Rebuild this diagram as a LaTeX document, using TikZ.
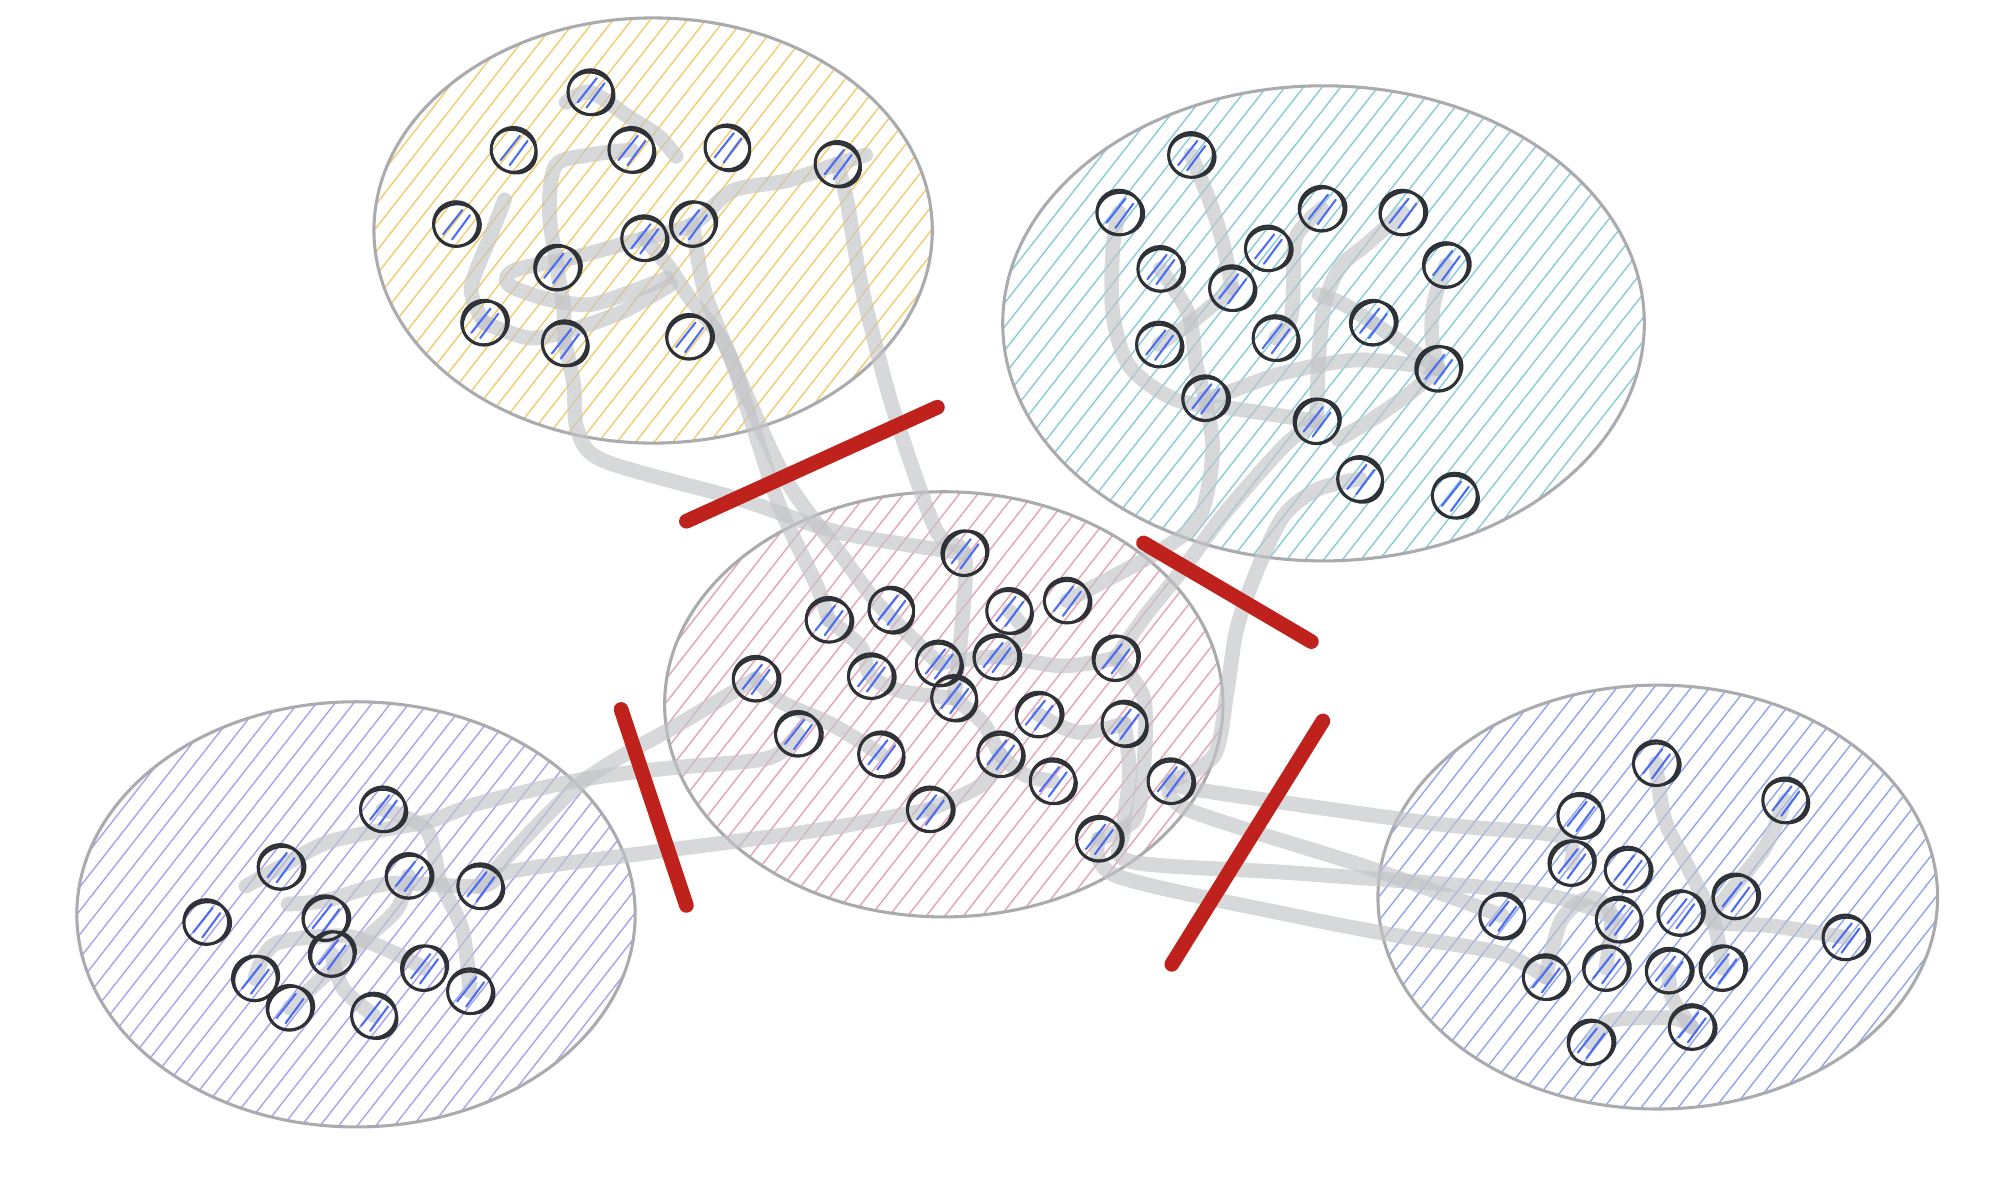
\documentclass[tikz,border=0pt]{standalone}
\usetikzlibrary{calc}
\definecolor{ink}{HTML}{2E3136}
\definecolor{nblue}{HTML}{4A6CF5}
\definecolor{egray}{HTML}{C2C4C7}
\definecolor{ringc}{HTML}{A9ABAE}
\definecolor{redc}{HTML}{BF221D}
\definecolor{hyel}{HTML}{F2CB68}
\definecolor{hteal}{HTML}{85CBD6}
\definecolor{hpink}{HTML}{E6A0B4}
\definecolor{hlav}{HTML}{A79FF0}
\definecolor{hblue}{HTML}{8EA2EF}
\pgfdeclarelayer{back}\pgfdeclarelayer{edges}\pgfdeclarelayer{front}
\pgfsetlayers{back,edges,main,front}
\tikzset{
 vnode/.style={circle, minimum size=35pt, inner sep=0pt, draw=ink, line width=2.3pt,
   path picture={\draw[nblue, line width=1.6pt, line cap=round]
     ([shift={(-10,8)}]path picture bounding box.center) -- ++(15,-19)
     ([shift={(-3,12)}]path picture bounding box.center) -- ++(14,-19);}},
 sketch/.style={draw=ink, line width=1.9pt},
 gedge/.style={draw=egray, line width=11.5pt, line cap=round, line join=round, opacity=0.65},
 redbar/.style={draw=redc, line width=11.5pt, line cap=round},
 ring/.style={draw=ringc, line width=2.4pt},
}
\newcommand\vtx[3]{%
 \node[vnode] (#1) at (#2,#3) {};
 \begin{scope}[shift={(#1.center)}, rotate={mod(#2*7+#3*3,90)-45}]
  \draw[sketch] (1.0,0.8) ellipse [x radius=18.3, y radius=16.4];
 \end{scope}}
\newcommand\hatchell[5]{%
 \begin{scope}
 \clip (#1,#2) ellipse [x radius=#3, y radius=#4];
 \foreach \k in {-30,...,30} \draw[#5, line width=1.05pt] ({#1+\k*14.5-185},{#2+236}) -- ++(370,-473);
 \end{scope}
 \draw[ring] (#1,#2) ellipse [x radius=#3, y radius=#4];}
\begin{document}
\begin{tikzpicture}[x=1pt,y=-1pt]
\useasboundingbox (0,0) rectangle (1568,925);
\begin{pgfonlayer}{back}
\fill[white] (0,0) rectangle (1568,925);
\hatchell{510}{180}{218}{166}{hyel}
\hatchell{1033.5}{252.5}{250.5}{185.5}{hteal}
\hatchell{737}{550}{218}{166}{hpink}
\hatchell{278}{714}{218}{166}{hlav}
\hatchell{1294.5}{700.5}{218.5}{165.5}{hblue}
\end{pgfonlayer}
% yellow cluster
\vtx{Y1}{461}{72}\vtx{Y2}{401}{117}\vtx{Y3}{493}{117}\vtx{Y4}{568}{115}
\vtx{Y5}{654}{128}\vtx{Y6}{356}{175}\vtx{Y7}{503}{186}\vtx{Y8}{541}{175}
\vtx{Y9}{435}{209}\vtx{Y10}{378}{252}\vtx{Y11}{441}{268}\vtx{Y12}{538}{263}
% teal cluster
\vtx{T1}{930}{121}\vtx{T2}{874}{166}\vtx{T3}{1032}{163}\vtx{T4}{1095}{166}
\vtx{T5}{990}{194}\vtx{T6}{906}{210}\vtx{T7}{1129}{207}\vtx{T8}{962}{225}
\vtx{T9}{1072}{252}\vtx{T10}{905}{269}\vtx{T11}{996}{264}\vtx{T12}{1123}{288}
\vtx{T13}{941}{311}\vtx{T14}{1028}{329}\vtx{T15}{1062}{374}\vtx{T16}{1136}{387}
% pink cluster
\vtx{P1}{753}{432}\vtx{P2}{647}{484}\vtx{P3}{696}{476}\vtx{P4}{788}{477}
\vtx{P5}{833}{469}\vtx{P6}{590}{530}\vtx{P7}{680}{528}\vtx{P8}{733}{518}
\vtx{P9}{778}{513}\vtx{P10}{871}{514}\vtx{P11}{745}{545}\vtx{P12}{811}{558}
\vtx{P13}{623}{573}\vtx{P14}{688}{589}\vtx{P15}{781}{589}\vtx{P16}{878}{565}
\vtx{P17}{822}{610}\vtx{P18}{726}{632}\vtx{P19}{914}{610}\vtx{P20}{858}{655}
% bottom-left cluster
\vtx{L1}{299}{632}\vtx{L2}{219}{677}\vtx{L3}{319}{684}\vtx{L4}{375}{692}
\vtx{L5}{161}{720}\vtx{L6}{254}{717}\vtx{L7}{259}{745}\vtx{L8}{199}{764}
\vtx{L9}{331}{756}\vtx{L10}{367}{774}\vtx{L11}{226}{787}\vtx{L12}{292}{793}
% bottom-right cluster
\vtx{R1}{1293}{596}\vtx{R2}{1394}{625}\vtx{R3}{1234}{637}\vtx{R4}{1227}{674}
\vtx{R5}{1271}{679}\vtx{R6}{1355}{700}\vtx{R7}{1173}{715}\vtx{R8}{1264}{718}
\vtx{R9}{1312}{713}\vtx{R10}{1441}{732}\vtx{R11}{1207}{763}\vtx{R12}{1254}{756}
\vtx{R13}{1303}{758}\vtx{R14}{1345}{756}\vtx{R15}{1242}{814}\vtx{R16}{1321}{802}
% free ends
\coordinate (ya0) at (442,80);
\coordinate (ya1) at (528,122);
\coordinate (ya2) at (676,121);
\coordinate (yd0) at (394,156);
\coordinate (yd1) at (524,222);
\coordinate (yl1) at (521,217);
\coordinate (tc1) at (1030,230);
\coordinate (tc2) at (1045,343);
\coordinate (lb1) at (192,692);
\coordinate (lb2) at (225,706);
\begin{pgfonlayer}{edges}
% yellow
\draw[gedge] plot[smooth] coordinates {(ya0) (Y1.center) (492,92) (514,106) (ya1)};
\draw[gedge] plot[smooth] coordinates {(Y3.center) (460,121) (434,129) (429,165) (Y9.center) (440,240) (Y11.center)};
\draw[gedge] plot[smooth] coordinates {(Y10.center) (368,225) (384,182) (yd0)};
\draw[gedge] plot[smooth] coordinates {(Y10.center) (414,264) (448,257) (487,243) (yd1)};
\draw[gedge] plot[smooth] coordinates {(Y7.center) (448,201) (402,211) (397,222) (425,233) (459,238) (487,230) (yl1)};
\draw[gedge] plot[smooth] coordinates {(Y7.center) (Y8.center) (572,149) (615,141) (Y5.center) (ya2)};
% yellow to pink
\draw[gedge] plot[smooth] coordinates {(Y7.center) (522,208) (538,232) (567,271) (588,333) (609,396) (638,458) (P2.center)};
\draw[gedge] plot[smooth] coordinates {(Y8.center) (546,208) (553,236) (578,297) (614,375) (656,432) (686,472) (P8.center)};
\draw[gedge] plot[smooth] coordinates {(Y11.center) (448,300) (451,336) (472,360) (578,390) (656,416) (P1.center)};
\draw[gedge] plot[smooth] coordinates {(Y5.center) (662,160) (673,225) (697,318) (731,414) (P1.center) (751,490) (P11.center)};
% teal
\draw[gedge] plot[smooth] coordinates {(T1.center) (945,158) (955,190) (T8.center)};
\draw[gedge] plot[smooth] coordinates {(T2.center) (869,193) (869,245) (882,286) (918,312) (970,320) (T14.center)};
\draw[gedge] plot[smooth] coordinates {(T6.center) (928,245) (934,285) (T13.center)};
\draw[gedge] plot[smooth] coordinates {(T8.center) (935,248) (T10.center)};
\draw[gedge] plot[smooth] coordinates {(T4.center) (1068,190) (1047,208) (1035,235) (1030,275) (T14.center)};
\draw[gedge] plot[smooth] coordinates {(tc1) (1050,238) (T9.center)};
\draw[gedge] plot[smooth] coordinates {(T3.center) (1012,185) (1010,220) (1008,248) (T11.center)};
\draw[gedge] plot[smooth] coordinates {(T7.center) (1120,235) (1118,262) (T12.center)};
\draw[gedge] plot[smooth] coordinates {(T9.center) (1098,270) (T12.center)};
\draw[gedge] plot[smooth] coordinates {(T13.center) (957,307) (1003,291) (1062,281) (T12.center)};
\draw[gedge] plot[smooth] coordinates {(T12.center) (1101,307) (1069,329) (tc2)};
% teal to pink
\draw[gedge] plot[smooth] coordinates {(T14.center) (1003,348) (957,400) (924,444) (895,480) (P10.center)};
\draw[gedge] plot[smooth] coordinates {(T13.center) (947,352) (937,403) (906,430) (P5.center)};
\draw[gedge] plot[smooth] coordinates {(T15.center) (1029,382) (1003,402) (983,442) (966,490) (958,541) (948,590) (P19.center)};
% pink
\draw[gedge] plot[smooth] coordinates {(P8.center) (P9.center) (830,520) (P10.center)};
\draw[gedge] plot[smooth] coordinates {(P6.center) (610,548) (650,566) (P14.center)};
\draw[gedge] plot[smooth] coordinates {(P2.center) (672,505) (P7.center) (705,540) (P11.center)};
\draw[gedge] plot[smooth] coordinates {(P11.center) (768,565) (P15.center) (800,605) (P17.center)};
\draw[gedge] plot[smooth] coordinates {(P12.center) (842,572) (P16.center)};
\draw[gedge] plot[smooth] coordinates {(P10.center) (893,545) (893,600) (886,640) (P20.center)};
\draw[gedge] plot[smooth] coordinates {(P4.center) (800,495) (P9.center)};
\draw[gedge] plot[smooth] coordinates {(P15.center) (768,612) (P18.center)};
% pink to bottom-right
\draw[gedge] plot[smooth] coordinates {(P16.center) (882,605) (877,650) (884,673) (1015,682) (1197,697) (R8.center)};
\draw[gedge] plot[smooth] coordinates {(P20.center) (872,684) (1015,716) (1093,731) (1171,744) (R11.center)};
\draw[gedge] plot[smooth] coordinates {(P19.center) (937,617) (1119,643) (1218,653) (R4.center)};
\draw[gedge] plot[smooth] coordinates {(P19.center) (927,632) (1067,677) (R7.center)};
% pink to bottom-left
\draw[gedge] plot[smooth] coordinates {(P6.center) (531,565) (453,612) (L4.center)};
\draw[gedge] plot[smooth] coordinates {(P13.center) (600,592) (520,600) (453,609) (375,627) (336,641) (299,648) (255,658) (L2.center) (lb1)};
\draw[gedge] plot[smooth] coordinates {(P18.center) (640,648) (505,666) (401,680) (L4.center) (304,690) (255,703) (lb2)};
% bottom-left
\draw[gedge] plot[smooth] coordinates {(L8.center) (215,737) (270,731) (310,745) (L9.center)};
\draw[gedge] plot[smooth] coordinates {(L1.center) (333,648) (344,689) (361,726) (L10.center)};
\draw[gedge] plot[smooth] coordinates {(L3.center) (310,710) (282,736) (L11.center)};
\draw[gedge] plot[smooth] coordinates {(L7.center) (268,772) (L12.center)};
% bottom-right
\draw[gedge] plot[smooth] coordinates {(R1.center) (1300,640) (1318,677) (1338,719) (R14.center)};
\draw[gedge] plot[smooth] coordinates {(R2.center) (1378,662) (1348,700) (1336,719) (1384,723) (R10.center)};
\draw[gedge] plot[smooth] coordinates {(R11.center) (1219,719) (1241,701) (1258,714) (R12.center)};
\draw[gedge] plot[smooth] coordinates {(R15.center) (1258,797) (1306,795) (R16.center)};
\draw[gedge] plot[smooth] coordinates {(R13.center) (1306,780) (R16.center)};
\end{pgfonlayer}
% red cut bars
\begin{pgfonlayer}{front}
\coordinate (c1a) at (536,407); \coordinate (c1b) at (732,318);
\coordinate (c2a) at (893,424); \coordinate (c2b) at (1024,501);
\coordinate (c3a) at (485,554); \coordinate (c3b) at (536,707);
\coordinate (c4a) at (1033,563); \coordinate (c4b) at (915,753);
\draw[redbar] (c1a) -- (c1b);
\draw[redbar] (c2a) -- (c2b);
\draw[redbar] (c3a) -- (c3b);
\draw[redbar] (c4a) -- (c4b);
\end{pgfonlayer}
\end{tikzpicture}
\end{document}
